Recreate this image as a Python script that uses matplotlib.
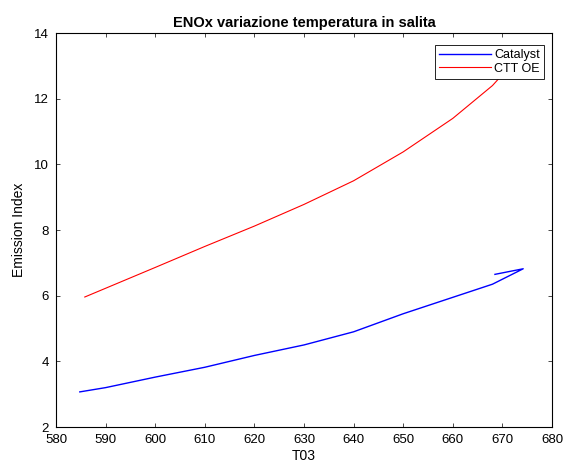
import matplotlib
matplotlib.use('Agg')
import matplotlib.pyplot as plt

plt.rcParams['font.family'] = ['Liberation Sans', 'DejaVu Sans']

# temperatures (T03) and emission index readings
t03_cat = [584.8, 590, 600, 610, 620, 630, 640, 650, 660, 668, 674.2, 668.5]
ei_cat = [3.07, 3.2, 3.52, 3.82, 4.18, 4.5, 4.9, 5.45, 5.95, 6.35, 6.82, 6.65]

t03_ctt = [585.8, 600, 610, 620, 630, 640, 650, 660, 668, 674]
ei_ctt = [5.96, 6.86, 7.5, 8.12, 8.78, 9.5, 10.38, 11.4, 12.4, 13.4]

fig = plt.figure(figsize=(5.68, 4.72), dpi=100)
ax = fig.add_axes([0.0986, 0.0953, 0.8732, 0.8347])

ax.plot(t03_cat, ei_cat, color=(0, 0, 1), linewidth=1.0, label='Catalyst')
ax.plot(t03_ctt, ei_ctt, color=(1, 0, 0), linewidth=0.8, label='CTT OE')

ax.set_xlim(580, 680)
ax.set_ylim(2, 14)
ax.set_xticks(range(580, 681, 10))
ax.set_yticks(range(2, 15, 2))
ax.tick_params(direction='in', top=True, right=True, labelsize=9.5, length=3, width=0.5, pad=5)
for s in ax.spines.values():
    s.set_linewidth(0.8)

ax.set_xlabel('T03', fontsize=10, labelpad=2)
ax.set_ylabel('Emission Index', fontsize=10, labelpad=6)
ax.set_title('ENOx variazione temperatura in salita', fontsize=10.5, fontweight='bold', pad=4)

leg = ax.legend(loc='upper right', bbox_to_anchor=(0.984, 0.9695), borderaxespad=0,
                fontsize=9, fancybox=False, framealpha=1, edgecolor='black',
                handlelength=4.2, handletextpad=0.2, borderpad=0.35, labelspacing=0.1)
leg.get_frame().set_linewidth(0.6)

fig.savefig('out.png', dpi=100)
